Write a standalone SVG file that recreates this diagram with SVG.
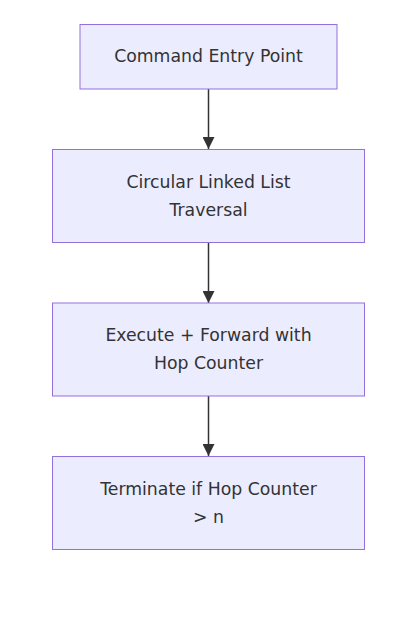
<svg xmlns="http://www.w3.org/2000/svg" width="419" height="620" viewBox="0 0 419 620">
<defs>
<style>
.node rect{fill:#ECECFF;stroke:#9370DB;stroke-width:1px;}
.node text{font-family:"DejaVu Sans","Liberation Sans",sans-serif;font-size:17.3px;fill:#333;text-anchor:middle;}
.edge{stroke:#333;stroke-width:1.5px;fill:none;}
</style>
<marker id="arrow" viewBox="0 0 10 10" refX="10" refY="5" markerUnits="userSpaceOnUse" markerWidth="12" markerHeight="12" orient="auto">
<path d="M0,0 L10,5 L0,10 z" fill="#333"/>
</marker>
</defs>
<rect width="419" height="620" fill="#fff"/>
<g id="edges">
<path class="edge" d="M208.5,89 L208.5,149" marker-end="url(#arrow)"/>
<path class="edge" d="M208.5,242 L208.5,303" marker-end="url(#arrow)"/>
<path class="edge" d="M208.5,396 L208.5,456" marker-end="url(#arrow)"/>
</g>
<g id="n1" class="node">
<rect x="80" y="24.5" width="257" height="64.5"/>
<text x="208.5" y="62">Command Entry Point</text>
</g>
<g id="n2" class="node">
<rect x="52.5" y="149.5" width="312" height="93"/>
<text x="208.5" y="188">Circular Linked List</text>
<text x="208.5" y="216">Traversal</text>
</g>
<g id="n3" class="node">
<rect x="52.5" y="303" width="312" height="93"/>
<text x="208.5" y="341">Execute + Forward with</text>
<text x="208.5" y="369">Hop Counter</text>
</g>
<g id="n4" class="node">
<rect x="52.5" y="456.5" width="312" height="93"/>
<text x="208.5" y="495">Terminate if Hop Counter</text>
<text x="208.5" y="523">&gt; n</text>
</g>
</svg>
